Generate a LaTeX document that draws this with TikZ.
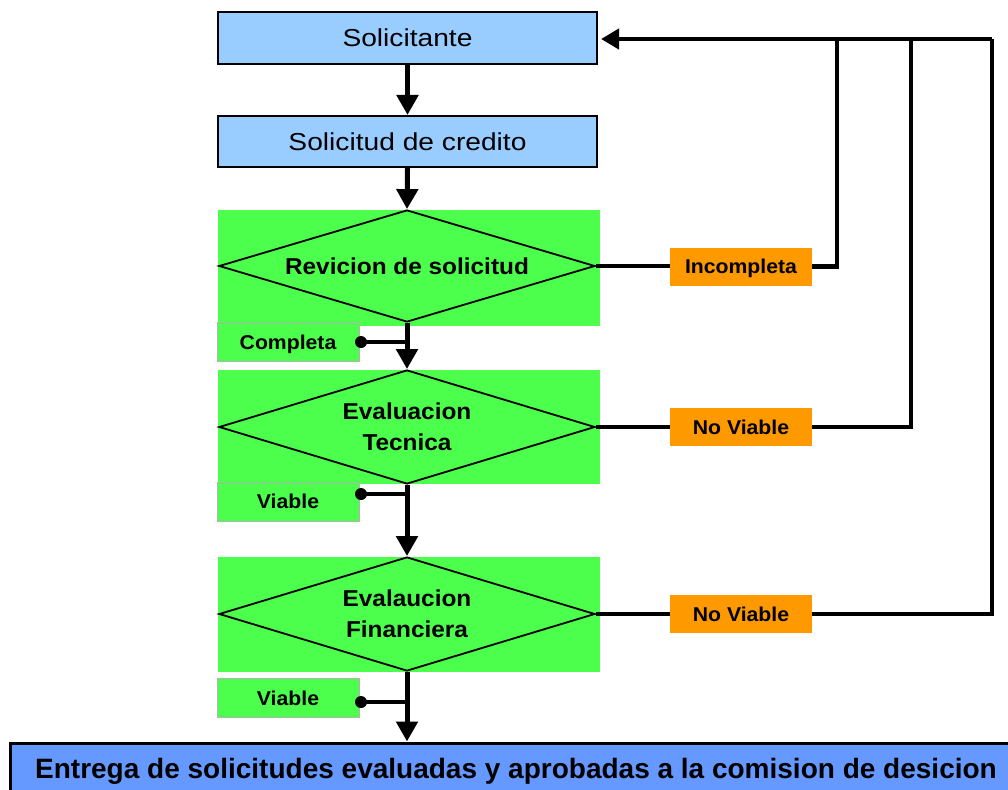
\documentclass[tikz,border=0pt]{standalone}
\usepackage{fontspec}
\setmainfont{Liberation Sans}
\newfontfamily\wfont[FakeStretch=1.15]{Liberation Sans}
\newfontfamily\bfont[FakeStretch=1.06]{Liberation Sans}
\usetikzlibrary{shapes.geometric,arrows.meta}
\definecolor{lblue}{HTML}{99CCFF}
\definecolor{dblue}{HTML}{6699FF}
\definecolor{lgreen}{HTML}{4CFF4C}
\definecolor{orng}{HTML}{FF9900}
\begin{document}
\begin{tikzpicture}[x=1pt,y=-1pt,
  proc/.style={draw=black,line width=2pt,fill=lblue,minimum width=379pt,minimum height=52pt,inner sep=0pt,
    font=\wfont\fontsize{24.5}{28}\selectfont},
  gbg/.style={fill=lgreen,minimum width=382pt,inner sep=0pt},
  dec/.style={diamond,draw=black,line width=1.8pt,aspect=3.4,minimum width=376pt,inner sep=0pt,align=center,
    font=\bfont\bfseries\fontsize{23}{31}\selectfont},
  tag/.style={draw=gray!60,line width=0.6pt,fill=lgreen,minimum width=142pt,minimum height=39pt,inner sep=0pt,
    text depth=0pt,font=\bfont\bfseries\fontsize{20}{24}\selectfont},
  otag/.style={fill=orng,minimum width=142pt,minimum height=38pt,inner sep=0pt,
    text depth=0pt,font=\bfont\bfseries\fontsize{20}{24}\selectfont},
  dot/.style={circle,fill=black,inner sep=0pt,minimum size=12pt},
  arr/.style={line width=5pt,-{Triangle[length=20pt,width=21pt]}},
  fb/.style={line width=4.3pt},
  fbarr/.style={line width=4.3pt,-{Triangle[length=18pt,width=20pt]}},
  tie/.style={line width=3.5pt}
]
\useasboundingbox (0,0) rectangle (1008,789);

% process boxes
\node[proc] (sol) at (407.5,38) {Solicitante};
\node[proc,minimum height=51pt] (sc) at (407.5,141.5) {Solicitud de credito};

% green backgrounds
\node[gbg,minimum height=116pt] (g1) at (409,268) {};
\node[gbg,minimum height=114pt] (g2) at (409,427) {};
\node[gbg,minimum height=115pt] (g3) at (409,614.5) {};

% decisions
\node[dec,minimum height=112pt] (d1) at (407,266) {Revicion de solicitud};
\node[dec,minimum height=114pt] (d2) at (407,427) {Evaluacion\\Tecnica};
\node[dec,minimum height=114pt] (d3) at (407,614) {Evalaucion\\Financiera};

% tags
\node[tag] (comp) at (288,342) {Completa};
\node[tag] (via1) at (288,501.5) {Viable};
\node[tag] (via2) at (288,698) {Viable};

\node[otag] (inc) at (741,266.5) {Incompleta};
\node[otag] (nv1) at (741,427) {No Viable};
\node[otag] (nv2) at (741,614) {No Viable};

% bottom box
\begin{scope}
\clip (0,0) rectangle (1008,789);
\node[draw=black,line width=3pt,fill=dblue,minimum width=1020pt,minimum height=57pt,inner sep=0pt,
  font=\bfseries\fontsize{28}{32}\selectfont] (bot) at (520,771.5)
  {\hspace*{-8pt}Entrega de solicitudes evaluadas y aprobadas a la comision de desicion};
\end{scope}

% main flow
\draw[arr] (sol.south) -- (sc.north);
\draw[arr] (sc.south) -- (d1.north);
\draw[arr] (d1.south) -- (d2.north);
\draw[arr] (d2.south) -- (d3.north);
\draw[arr] (d3.south) -- (d3.south |- bot.north);

% dots
\node[dot] (k1) at (361,342) {};
\node[dot] (k2) at (361,494) {};
\node[dot] (k3) at (361,702) {};
\draw[tie] (k1.center) -- (k1 -| d1.south);
\draw[tie] (k2.center) -- (k2 -| d2.south);
\draw[tie] (k3.center) -- (k3 -| d3.south);

% feedback
\coordinate (j1) at (837,39);
\coordinate (j2) at (911,39);
\coordinate (j3) at (992,39);
\draw[fb] (d1.east) -- (d1.east -| inc.west);
\draw[fb] (d2.east) -- (nv1.west);
\draw[fb] (d3.east) -- (nv2.west);
\draw[fb] (inc.east) -| (j1);
\draw[fb] (nv1.east) -| (j2);
\draw[fb] (nv2.east) -| (j3);
\draw[fbarr] (j3) -- ([xshift=3pt]sol.east |- j3);
\end{tikzpicture}
\end{document}
